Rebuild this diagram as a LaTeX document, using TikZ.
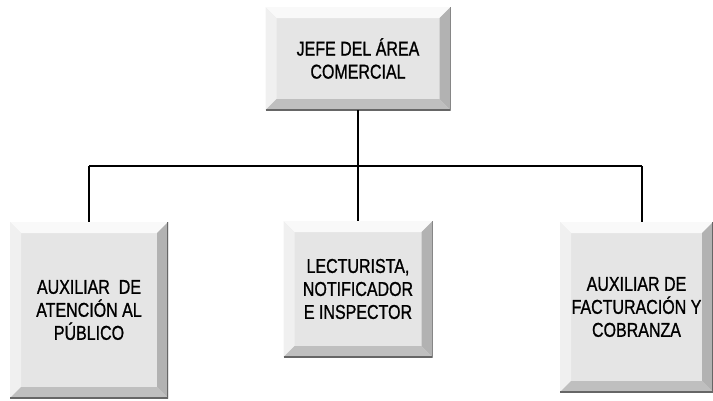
\documentclass[tikz,border=0pt]{standalone}
\usepackage{fontspec}
\setmainfont{Liberation Sans}[FakeStretch=0.8,FakeBold=1]
\usepackage{tikz}

\begin{document}
\begin{tikzpicture}[
    box/.style={fill=gray!20,align=center,inner sep=0pt,font=\fontsize{20}{23}\selectfont,
      path picture={
        \fill[gray!5] (path picture bounding box.north west) -- (path picture bounding box.north east)
          -- ([xshift=-11pt,yshift=-11pt]path picture bounding box.north east)
          -- ([xshift=11pt,yshift=-11pt]path picture bounding box.north west) -- cycle;
        \fill[gray!12] (path picture bounding box.north west) -- (path picture bounding box.south west)
          -- ([xshift=11pt,yshift=11pt]path picture bounding box.south west)
          -- ([xshift=11pt,yshift=-11pt]path picture bounding box.north west) -- cycle;
        \fill[gray!60] (path picture bounding box.north east) -- (path picture bounding box.south east)
          -- ([xshift=-11pt,yshift=11pt]path picture bounding box.south east)
          -- ([xshift=-11pt,yshift=-11pt]path picture bounding box.north east) -- cycle;
        \fill[gray!50] (path picture bounding box.south west) -- (path picture bounding box.south east)
          -- ([xshift=-11pt,yshift=11pt]path picture bounding box.south east)
          -- ([xshift=11pt,yshift=11pt]path picture bounding box.south west) -- cycle;
        \draw[gray!80!black,line width=2pt] (path picture bounding box.north east)
          -- (path picture bounding box.south east) -- (path picture bounding box.south west);
      }},
    link/.style={line width=1.8pt},
    x=1pt,y=-1pt
    ]
    \useasboundingbox (0,0) rectangle (713,400);
    \node[box,minimum width=185pt,minimum height=103pt](jefe) at (358,58.5){JEFE DEL ÁREA\\COMERCIAL};
    \node[box,minimum width=158pt,minimum height=176pt](atencion) at (89,310){AUXILIAR~~DE\\ATENCIÓN AL\\PÚBLICO};
    \node[box,minimum width=149pt,minimum height=136pt](lecturista) at (358,289){LECTURISTA,\\NOTIFICADOR\\E INSPECTOR};
    \node[box,minimum width=153pt,minimum height=170pt](facturacion) at (636.5,307){AUXILIAR DE\\FACTURACIÓN Y\\COBRANZA};
    \coordinate (bus) at (358,166);
    \coordinate (busl) at (89,166);
    \coordinate (busr) at (642,166);
    \coordinate (factop) at (642,222);
    \draw[link] (jefe) -- (bus);
    \draw[link] (busl) -- (busr);
    \draw[link] (bus) -- (lecturista);
    \draw[link] (busl) -- (atencion);
    \draw[link] (busr) -- (factop);
  \end{tikzpicture}
\end{document}
